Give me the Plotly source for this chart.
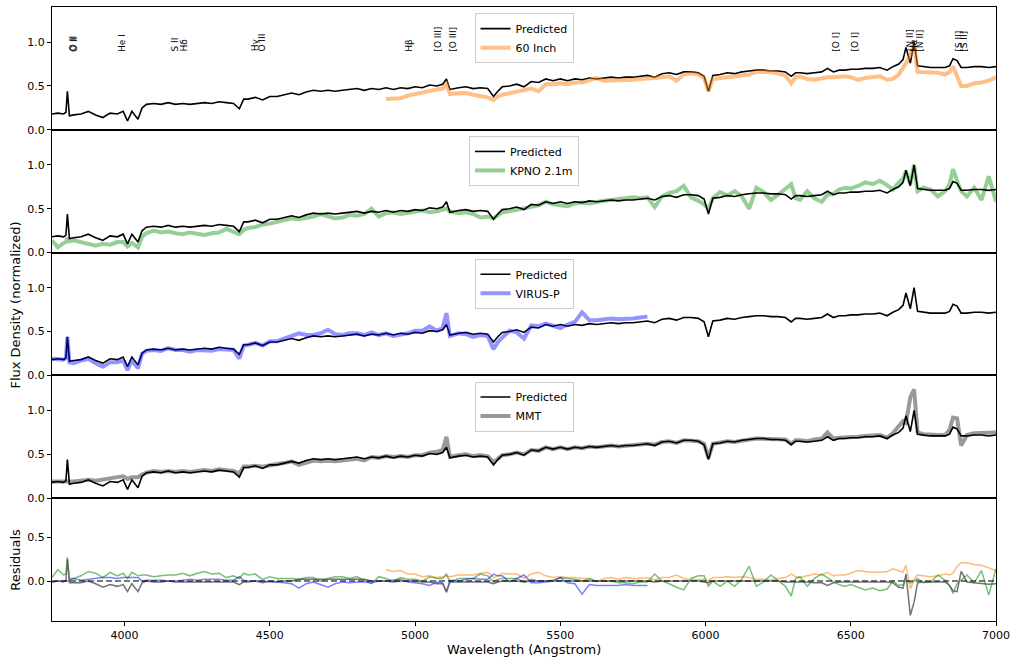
import plotly.graph_objects as go
from plotly.subplots import make_subplots

# ---------------- data ----------------
wave = [3750, 3770, 3790, 3798, 3803, 3810, 3825, 3850, 3875, 3900,
        3925, 3950, 3975, 3995, 4010, 4025, 4046, 4060, 4075, 4100,
        4125, 4150, 4175, 4200, 4225, 4250, 4275, 4300, 4325, 4350,
        4375, 4395, 4410, 4425, 4450, 4475, 4500, 4525, 4550, 4575,
        4600, 4625, 4650, 4675, 4700, 4725, 4750, 4775, 4800, 4825,
        4850, 4875, 4900, 4925, 4950, 4975, 5000, 5025, 5050, 5075,
        5095, 5108, 5120, 5150, 5175, 5200, 5225, 5250, 5270, 5285,
        5300, 5325, 5350, 5375, 5400, 5425, 5450, 5475, 5500, 5525,
        5550, 5575, 5600, 5625, 5650, 5675, 5700, 5725, 5750, 5775,
        5800, 5825, 5850, 5875, 5900, 5925, 5950, 5975, 5995, 6010,
        6025, 6050, 6075, 6100, 6125, 6150, 6175, 6200, 6225, 6250,
        6275, 6295, 6310, 6325, 6350, 6375, 6400, 6420, 6440, 6460,
        6480, 6500, 6525, 6550, 6575, 6600, 6625, 6645, 6665, 6680,
        6690, 6705, 6718, 6730, 6750, 6775, 6800, 6825, 6840, 6852,
        6866, 6880, 6900, 6925, 6950, 6975, 7000]

predicted = [0.18, 0.19, 0.18, 0.20, 0.44, 0.16, 0.17, 0.18, 0.21, 0.17,
             0.14, 0.19, 0.18, 0.21, 0.10, 0.21, 0.12, 0.25, 0.29, 0.30,
             0.29, 0.31, 0.29, 0.30, 0.29, 0.30, 0.31, 0.30, 0.32, 0.31,
             0.30, 0.24, 0.35, 0.35, 0.37, 0.34, 0.38, 0.38, 0.40, 0.42,
             0.40, 0.43, 0.45, 0.44, 0.45, 0.44, 0.45, 0.46, 0.47, 0.45,
             0.47, 0.46, 0.48, 0.46, 0.48, 0.47, 0.49, 0.48, 0.51, 0.50,
             0.52, 0.58, 0.46, 0.48, 0.49, 0.47, 0.48, 0.47, 0.38, 0.44,
             0.49, 0.50, 0.52, 0.49, 0.55, 0.54, 0.58, 0.56, 0.58, 0.56,
             0.58, 0.57, 0.59, 0.58, 0.59, 0.60, 0.59, 0.60, 0.60, 0.61,
             0.62, 0.60, 0.64, 0.65, 0.63, 0.66, 0.66, 0.65, 0.61, 0.44,
             0.62, 0.63, 0.65, 0.64, 0.66, 0.67, 0.68, 0.68, 0.67, 0.67,
             0.66, 0.61, 0.65, 0.65, 0.64, 0.65, 0.66, 0.70, 0.66, 0.68,
             0.68, 0.69, 0.69, 0.70, 0.70, 0.71, 0.68, 0.72, 0.75, 0.80,
             0.94, 0.76, 1.00, 0.73, 0.72, 0.71, 0.71, 0.71, 0.73, 0.81,
             0.79, 0.71, 0.71, 0.72, 0.72, 0.71, 0.72]

# 60 Inch spectrum starts at 4900 A
inch60_start = 4900
inch60 = [0.35, 0.35, 0.36, 0.39, 0.41, 0.43, 0.45, 0.46,
          0.47, 0.52, 0.41, 0.41, 0.42, 0.40, 0.39, 0.37, 0.34, 0.38,
          0.40, 0.42, 0.44, 0.46, 0.47, 0.44, 0.52, 0.52, 0.53, 0.52,
          0.54, 0.54, 0.56, 0.59, 0.56, 0.56, 0.57, 0.56, 0.57, 0.58,
          0.58, 0.59, 0.60, 0.61, 0.56, 0.63, 0.645, 0.63, 0.59, 0.44,
          0.58, 0.59, 0.60, 0.60, 0.61, 0.63, 0.66, 0.66, 0.66, 0.64,
          0.62, 0.53, 0.60, 0.61, 0.58, 0.57, 0.59, 0.60, 0.60, 0.61,
          0.61, 0.60, 0.57, 0.59, 0.60, 0.61, 0.57, 0.58, 0.63, 0.70,
          0.76, 0.85, 0.98, 0.66, 0.66, 0.66, 0.65, 0.63, 0.66, 0.72,
          0.62, 0.50, 0.50, 0.53, 0.54, 0.56, 0.60]

kpno = [0.14, 0.06, 0.11, 0.12, 0.17, 0.13, 0.14, 0.12, 0.10, 0.08,
        0.10, 0.09, 0.12, 0.12, 0.07, 0.11, 0.06, 0.18, 0.22, 0.25,
        0.23, 0.24, 0.22, 0.21, 0.23, 0.21, 0.20, 0.22, 0.23, 0.27,
        0.24, 0.21, 0.26, 0.28, 0.29, 0.32, 0.33, 0.35, 0.37, 0.39,
        0.38, 0.39, 0.41, 0.44, 0.42, 0.39, 0.40, 0.43, 0.42, 0.44,
        0.50, 0.41, 0.45, 0.46, 0.44, 0.45, 0.47, 0.48, 0.46, 0.47,
        0.49, 0.50, 0.47, 0.45, 0.46, 0.44, 0.40, 0.41, 0.39, 0.42,
        0.46, 0.47, 0.49, 0.50, 0.53, 0.54, 0.58, 0.55, 0.54, 0.53,
        0.56, 0.57, 0.56, 0.58, 0.59, 0.60, 0.61, 0.62, 0.63, 0.62,
        0.63, 0.52, 0.64, 0.68, 0.70, 0.76, 0.63, 0.59, 0.55, 0.50,
        0.62, 0.69, 0.65, 0.70, 0.64, 0.50, 0.74, 0.69, 0.60, 0.66,
        0.72, 0.78, 0.62, 0.60, 0.70, 0.62, 0.58, 0.66, 0.67, 0.72,
        0.74, 0.73, 0.76, 0.80, 0.78, 0.82, 0.77, 0.72, 0.80, 0.84,
        0.93, 0.78, 1.00, 0.70, 0.74, 0.72, 0.64, 0.70, 0.78, 0.95,
        0.82, 0.70, 0.64, 0.74, 0.60, 0.87, 0.58]

# VIRUS-P spectrum covers 3750 - 5800 A
virusp = [0.19, 0.19, 0.18, 0.20, 0.44, 0.15, 0.14, 0.17, 0.19, 0.14,
          0.10, 0.15, 0.15, 0.17, 0.06, 0.17, 0.08, 0.25, 0.28, 0.29,
          0.28, 0.31, 0.29, 0.29, 0.27, 0.29, 0.29, 0.28, 0.30, 0.30,
          0.29, 0.19, 0.34, 0.35, 0.37, 0.34, 0.39, 0.39, 0.42, 0.45,
          0.48, 0.46, 0.46, 0.48, 0.52, 0.47, 0.46, 0.48, 0.48, 0.46,
          0.49, 0.46, 0.48, 0.45, 0.46, 0.48, 0.51, 0.51, 0.56, 0.51,
          0.54, 0.71, 0.45, 0.48, 0.47, 0.44, 0.46, 0.45, 0.30, 0.38,
          0.43, 0.51, 0.49, 0.42, 0.57, 0.56, 0.59, 0.56, 0.54, 0.58,
          0.61, 0.72, 0.63, 0.63, 0.64, 0.65, 0.64, 0.64, 0.65, 0.66,
          0.67]

mmt = [0.19, 0.19, 0.19, 0.19, 0.19, 0.18, 0.19, 0.20, 0.21, 0.20,
       0.21, 0.23, 0.24, 0.25, 0.22, 0.24, 0.24, 0.27, 0.29, 0.31,
       0.30, 0.31, 0.30, 0.31, 0.30, 0.31, 0.32, 0.31, 0.33, 0.32,
       0.31, 0.28, 0.36, 0.36, 0.37, 0.36, 0.38, 0.39, 0.40, 0.42,
       0.38, 0.41, 0.43, 0.42, 0.43, 0.42, 0.43, 0.44, 0.45, 0.43,
       0.47, 0.46, 0.48, 0.47, 0.48, 0.47, 0.49, 0.49, 0.52, 0.53,
       0.55, 0.70, 0.47, 0.49, 0.50, 0.48, 0.49, 0.48, 0.41, 0.45,
       0.49, 0.50, 0.52, 0.50, 0.55, 0.54, 0.58, 0.56, 0.58, 0.56,
       0.58, 0.57, 0.59, 0.58, 0.59, 0.60, 0.59, 0.60, 0.60, 0.61,
       0.62, 0.61, 0.64, 0.65, 0.63, 0.66, 0.66, 0.65, 0.62, 0.46,
       0.62, 0.63, 0.65, 0.64, 0.66, 0.67, 0.68, 0.68, 0.67, 0.67,
       0.67, 0.62, 0.66, 0.66, 0.65, 0.67, 0.68, 0.75, 0.68, 0.69,
       0.69, 0.70, 0.70, 0.71, 0.71, 0.72, 0.69, 0.74, 0.82, 0.88,
       0.86, 1.15, 1.24, 0.75, 0.73, 0.72, 0.72, 0.72, 0.78, 0.92,
       0.91, 0.60, 0.72, 0.74, 0.745, 0.745, 0.75]

# emission line labels (rest wavelengths), shifted by the galaxy redshift
redshift = 0.0204
line_names = ["O II", "O II", "He I", "S II", "Hδ", "Hγ", "O III", "Hβ",
              "[O III]", "[O III]", "[O I]", "[O I]", "[N II]", "Hα",
              "[N II]", "[S II]", "[S II]"]
line_rest = [3726.0, 3728.8, 3889.0, 4069.7, 4101.7, 4340.5, 4363.2, 4861.3,
             4958.9, 5006.8, 6300.3, 6363.8, 6548.0, 6562.8,
             6583.5, 6716.4, 6730.8]

xticks = [4000, 4500, 5000, 5500, 6000, 6500, 7000]
flux_ticks = [0.0, 0.5, 1.0]
resid_ticks = [0.0, 0.5]

# ---------------- styling ----------------
FONT = "DejaVu Sans"
C_ORANGE = "rgba(255,127,14,0.5)"
C_GREEN = "rgba(44,160,44,0.5)"
C_BLUE = "rgba(0,0,255,0.42)"
C_GRAY = "rgba(128,128,128,0.8)"
R_ORANGE = "rgba(255,127,14,0.55)"
R_GREEN = "rgba(44,160,44,0.65)"
R_BLUE = "rgba(0,0,255,0.5)"
R_GRAY = "rgba(90,90,90,0.85)"

i60 = wave.index(inch60_start)
w60 = wave[i60:i60 + len(inch60)]
wvp = wave[:len(virusp)]

res60 = [round(p - o, 3) for p, o in zip(predicted[i60:], inch60)]
reskp = [round(p - o, 3) for p, o in zip(predicted, kpno)]
resvp = [round(p - o, 3) for p, o in zip(predicted, virusp)]
resmm = [round(p - o, 3) for p, o in zip(predicted, mmt)]

fig = make_subplots(rows=5, cols=1, shared_xaxes=True, vertical_spacing=0)

def pred_trace(legend):
    return go.Scatter(x=wave, y=predicted, mode="lines", name="Predicted",
                      line=dict(color="black", width=1.6), legend=legend,
                      legendrank=1)

# panel 1: 60 Inch (drawn over the prediction)
fig.add_trace(pred_trace("legend"), row=1, col=1)
fig.add_trace(go.Scatter(x=w60, y=inch60, mode="lines", name="60 Inch",
                         line=dict(color=C_ORANGE, width=4), legend="legend",
                         legendrank=2), row=1, col=1)
# panel 2: KPNO 2.1m (under the prediction)
fig.add_trace(go.Scatter(x=wave, y=kpno, mode="lines", name="KPNO 2.1m",
                         line=dict(color=C_GREEN, width=4), legend="legend2",
                         legendrank=2), row=2, col=1)
fig.add_trace(pred_trace("legend2"), row=2, col=1)
# panel 3: VIRUS-P (over the prediction)
fig.add_trace(pred_trace("legend3"), row=3, col=1)
fig.add_trace(go.Scatter(x=wvp, y=virusp, mode="lines", name="VIRUS-P",
                         line=dict(color=C_BLUE, width=4), legend="legend3",
                         legendrank=2), row=3, col=1)
# panel 4: MMT (under the prediction)
fig.add_trace(go.Scatter(x=wave, y=mmt, mode="lines", name="MMT",
                         line=dict(color=C_GRAY, width=4), legend="legend4",
                         legendrank=2), row=4, col=1)
fig.add_trace(pred_trace("legend4"), row=4, col=1)

# panel 5: residuals (predicted - observed)
for xs, ys, col in [(w60, res60, R_ORANGE), (wave, reskp, R_GREEN),
                    (wvp, resvp, R_BLUE), (wave, resmm, R_GRAY)]:
    fig.add_trace(go.Scatter(x=xs, y=ys, mode="lines", showlegend=False,
                             line=dict(color=col, width=1.5)), row=5, col=1)
fig.add_hline(y=0, row=5, col=1, line=dict(color="rgba(0,0,0,0.7)", width=1.5,
                                           dash="6px,3px"))

# emission line labels in top panel
for name, rest in zip(line_names, line_rest):
    fig.add_annotation(x=rest * (1 + redshift), y=0.88, xref="x", yref="y",
                       text=name, textangle=-90, showarrow=False,
                       xanchor="left", yanchor="bottom", borderpad=0,
                       font=dict(size=9, color="black", family=FONT))

# axes
fig.update_xaxes(range=[3750, 7000], showline=True, mirror=True,
                 linecolor="black", linewidth=1, showgrid=False,
                 zeroline=False, ticks="", showticklabels=False)
fig.update_xaxes(row=5, col=1, ticks="outside", ticklen=4, tickcolor="black",
                 showticklabels=True, tickvals=xticks,
                 ticktext=[str(t) for t in xticks],
                 ticklabeloverflow="allow")
fig.update_yaxes(range=[0, 1.4], showline=True, mirror=True,
                 linecolor="black", linewidth=1, showgrid=False,
                 zeroline=False, ticks="outside", ticklen=4,
                 tickcolor="black", tickvals=flux_ticks,
                 ticktext=[f"{t:.1f}" for t in flux_ticks])
fig.update_yaxes(row=5, col=1, range=[-0.455, 0.945], tickvals=resid_ticks,
                 ticktext=[f"{t:.1f}" for t in resid_ticks])

legend_style = dict(x=0.5, xanchor="center", yanchor="top",
                    bgcolor="rgba(255,255,255,0.85)", bordercolor="#cccccc",
                    borderwidth=1, font=dict(size=11, family=FONT,
                                             color="black"),
                    itemwidth=30, tracegroupgap=0)
fig.update_layout(
    width=1016, height=662,
    margin=dict(l=52, r=14, t=6, b=41),
    paper_bgcolor="white", plot_bgcolor="white",
    font=dict(family=FONT, size=11, color="black"),
    legend=dict(y=0.990, **legend_style),
    legend2=dict(y=0.790, **legend_style),
    legend3=dict(y=0.590, **legend_style),
    legend4=dict(y=0.390, **legend_style),
)

# axis titles as annotations
fig.add_annotation(x=-0.039, y=0.514, xref="paper", yref="paper",
                   text="Flux Density (normalized)", textangle=-90,
                   showarrow=False, xanchor="center", yanchor="middle",
                   font=dict(size=13, family=FONT, color="black"))
fig.add_annotation(x=-0.039, y=0.1, xref="paper", yref="paper",
                   text="Residuals", textangle=-90,
                   showarrow=False, xanchor="center", yanchor="middle",
                   font=dict(size=13, family=FONT, color="black"))
fig.add_annotation(x=0.5, y=-0.047, xref="paper", yref="paper",
                   text="Wavelength (Angstrom)", showarrow=False,
                   xanchor="center", yanchor="middle",
                   font=dict(size=13, family=FONT, color="black"))

fig.write_html("out.html", config={"displayModeBar": False},
               post_script="document.body.style.margin='0px';"
                           "document.body.style.overflow='hidden';")
